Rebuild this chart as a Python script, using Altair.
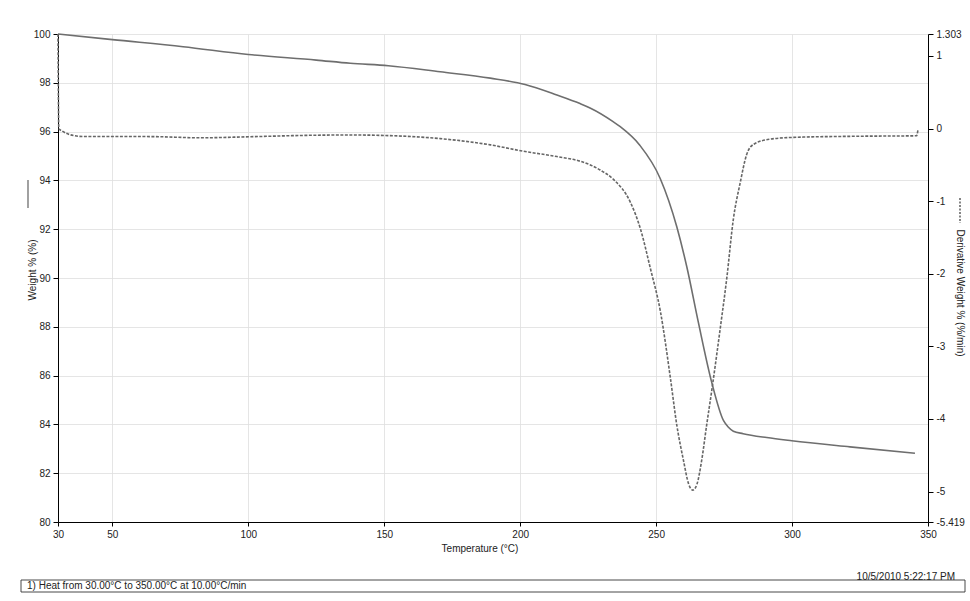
import altair as alt
import pandas as pd

# Weight % curve (solid)
weight_temp = [30, 50, 76, 100, 125, 137.5, 151.5, 170.6, 189, 201.8, 213.5, 222, 225.7,
               234.3, 236.8, 244, 251.5, 257.6, 261.3, 265.5, 270.5, 274.8, 276.6, 278.4,
               282, 290.7, 299.9, 321.3, 345.2]
weight_val = [100.0, 99.77, 99.48, 99.16, 98.93, 98.80, 98.70, 98.45, 98.19, 97.93, 97.50,
              97.15, 96.97, 96.40, 96.20, 95.44, 94.08, 92.10, 90.45, 88.20, 85.70, 84.15,
              83.88, 83.72, 83.62, 83.46, 83.33, 83.08, 82.82]

# Derivative weight curve (dashed)
deriv_temp = [30.0, 30.3, 31.5, 35.7, 39.4, 64, 82.4, 100.7, 125.3, 137.5, 152.2, 170.6, 189,
              201.2, 213.5, 222.1, 225.8, 229.4, 234.3, 240.5, 244.2, 247.9, 251.6, 255.3,
              257.6, 260.0, 262.0, 263.5, 265.0, 266.8, 268.6, 270.5, 273.6, 276.0, 278.4,
              280.9, 283.3, 285.8, 291.6, 300.5, 322.5, 345.8, 346.3]
deriv_val = [1.303, 0.0, -0.033, -0.096, -0.109, -0.110, -0.127, -0.112, -0.091, -0.088, -0.097,
             -0.138, -0.224, -0.312, -0.385, -0.45, -0.50, -0.57, -0.70, -1.012, -1.378,
             -1.928, -2.524, -3.45, -4.083, -4.56, -4.90, -4.98, -4.90, -4.56, -4.08, -3.597,
             -2.747, -2.057, -1.25, -0.75, -0.357, -0.218, -0.147, -0.121, -0.106, -0.099, -0.017]

x_ticks = [30, 50, 100, 150, 200, 250, 300, 350]
left_ticks = [80, 82, 84, 86, 88, 90, 92, 94, 96, 98, 100]
right_ticks = [1.303, 1, 0, -1, -2, -3, -4, -5, -5.419]

FONT = "Liberation Sans"
GRAY = "#6e6e6e"

wdf = pd.DataFrame({"T": weight_temp, "W": weight_val})
ddf = pd.DataFrame({"T": deriv_temp, "D": deriv_val})
one = pd.DataFrame({"a": [0]})

xscale = alt.Scale(domain=[30, 350], nice=False, zero=False)
xaxis = alt.Axis(values=x_ticks, title=None, grid=True, gridColor="#dedede", gridWidth=0.8,
                 domainColor="black", tickColor="black", tickSize=4, labelFontSize=10,
                 labelFont=FONT, labelColor="#222", labelPadding=3, labelFlush=False)

weight = alt.Chart(wdf).mark_line(color=GRAY, strokeWidth=1.6, interpolate="monotone").encode(
    x=alt.X("T:Q", scale=xscale, axis=xaxis),
    y=alt.Y("W:Q", scale=alt.Scale(domain=[80, 100], nice=False, zero=False),
            axis=alt.Axis(values=left_ticks, title=None, grid=True, gridColor="#dedede",
                          gridWidth=0.8, domainColor="black", tickColor="black", tickSize=5,
                          labelFontSize=10, labelFont=FONT, labelColor="#222", labelPadding=3,
                          labelFlush=False)),
)

deriv = alt.Chart(ddf).mark_line(color="#666666", strokeWidth=1.6, strokeDash=[3, 1.5],
                                 interpolate="monotone").encode(
    x=alt.X("T:Q", scale=xscale, axis=xaxis),
    y=alt.Y("D:Q", scale=alt.Scale(domain=[-5.419, 1.303], nice=False, zero=False),
            axis=alt.Axis(orient="right", values=right_ticks, title=None, grid=False,
                          domainColor="black", tickColor="black", tickSize=5,
                          labelFontSize=10, labelFont=FONT, labelColor="#222", labelPadding=3,
                          labelFlush=False, labelExpr="'' + datum.value")),
)

def txt(text, x, y, angle=0, align="center", size=10):
    return alt.Chart(one).mark_text(text=text, angle=angle, align=align, baseline="middle",
                                    fontSize=size, font=FONT, color="#222").encode(
        x=alt.value(x), y=alt.value(y))

left_title = txt("Weight % (%)", -25, 236, angle=270)
right_title = txt("Derivative Weight % (%/min)", 902, 259, angle=90)
x_title = txt("Temperature (°C)", 422, 515)
stamp = txt("10/5/2010 5:22:17 PM", 897, 543, align="right")
heat = txt("1) Heat from 30.00°C to 350.00°C at 10.00°C/min", -31, 552, align="left")

left_sample = alt.Chart(one).mark_rule(color=GRAY, strokeWidth=1.3).encode(
    x=alt.value(-30), y=alt.value(146), y2=alt.value(174))
right_sample = alt.Chart(one).mark_rule(color="#444", strokeWidth=1.3, strokeDash=[2, 1.5]).encode(
    x=alt.value(902), y=alt.value(164), y2=alt.value(189))
box = alt.Chart(one).mark_rect(fill="white", fillOpacity=0, stroke="#333", strokeWidth=0.9).encode(
    x=alt.value(-37), x2=alt.value(907), y=alt.value(546), y2=alt.value(558))

chart = alt.layer(
    weight, deriv, box, left_title, right_title, x_title, stamp, heat, left_sample, right_sample
).resolve_scale(y="independent").properties(
    width=870, height=488,
    autosize=alt.AutoSizeParams(type="none"),
    padding={"left": 58, "top": 34, "right": 42, "bottom": 79},
    background="white",
).configure_view(stroke=None)

chart.save("out.html", embed_options={"renderer": "svg", "actions": False})
